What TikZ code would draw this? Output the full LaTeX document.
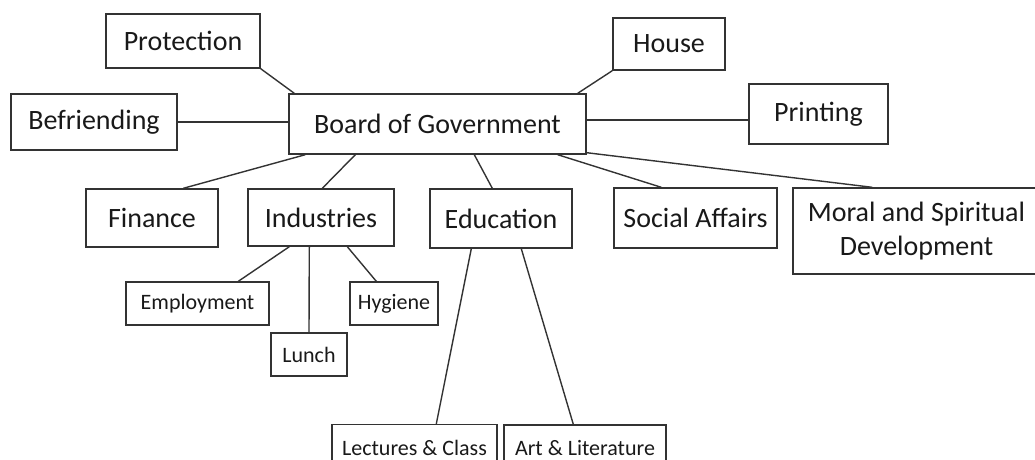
\documentclass[tikz,border=0pt]{standalone}
\usepackage{fontspec}
\setmainfont{Carlito}
\begin{document}
\begin{tikzpicture}[x=1pt,y=-1pt,
  box/.style={draw=black!80, line width=1.4pt, inner sep=0pt, text=black!90, align=center},
  big/.style={font=\fontsize{28}{34}\selectfont},
  small/.style={font=\fontsize{22}{26}\selectfont},
  conn/.style={draw=black!80, line width=1.4pt}]
\useasboundingbox (0,0) rectangle (1035,459);
\clip (0,0) rectangle (1035,459);
% nodes: centre = ((x1+x2)/2,(y1+y2)/2), size = (x2-x1, y2-y1)
\node[box,big,minimum width=154pt,minimum height=54pt] (prot) at (183,41) {Protection};
\node[box,big,minimum width=166pt,minimum height=56pt] (befr) at (94,122) {Befriending};
\node[box,big,minimum width=297pt,minimum height=60pt] (board) at (437.5,124) {Board of Government};
\node[box,big,minimum width=112pt,minimum height=52pt] (house) at (669,44) {House};
\node[box,big,minimum width=139pt,minimum height=60pt] (print) at (818.5,114) {Printing};
\node[box,big,minimum width=132pt,minimum height=58pt] (fin) at (152,218) {Finance};
\node[box,big,minimum width=146pt,minimum height=57pt] (ind) at (321,217.5) {Industries};
\node[box,big,minimum width=142pt,minimum height=59pt] (edu) at (501,218.5) {Education};
\node[box,big,minimum width=163pt,minimum height=60pt] (soc) at (695.5,218) {Social Affairs};
\node[box,big,minimum width=247pt,minimum height=86pt] (moral) at (916.5,231) {Moral and Spiritual\\Development};
\node[box,small,minimum width=143pt,minimum height=43pt] (emp) at (197.5,303.5) {Employment};
\node[box,small,minimum width=76pt,minimum height=43pt] (lunch) at (309,354.5) {Lunch};
\node[box,small,minimum width=88pt,minimum height=43pt] (hyg) at (394,303.5) {Hygiene};
\node[box,small,minimum width=165pt,minimum height=46pt] (lect) at (414.5,447.5) {Lectures \& Class};
\node[box,small,minimum width=162pt,minimum height=46pt] (art) at (585,448) {Art \& Literature};
% connectors
\draw[conn] (prot.south east) -- ([xshift=6pt]board.north west);
\draw[conn] (befr.east) -- (befr.east -| board.west);
\draw[conn] ([xshift=-9pt]board.north east) -- (house.south west);
\draw[conn] ([yshift=4pt]board.east) -- ([yshift=-6pt]print.west);
\draw[conn] ([xshift=17pt]board.south west) -- ([xshift=98pt]fin.north west);
\draw[conn] ([xshift=67pt]board.south west) -- ([xshift=75pt]ind.north west);
\draw[conn] ([xshift=186pt]board.south west) -- ([xshift=63pt]edu.north west);
\draw[conn] ([xshift=-29pt]board.south east) -- ([xshift=48pt]soc.north west);
\draw[conn] ([yshift=2pt]board.south east) -- ([xshift=80pt]moral.north west);
\draw[conn] ([xshift=42pt]ind.south west) -- ([xshift=113pt]emp.north west);
\draw[conn] ([xshift=62pt]ind.south west) -- (lunch.north);
\draw[conn] ([xshift=100pt]ind.south west) -- ([xshift=27pt]hyg.north west);
\draw[conn] ([xshift=42pt]edu.south west) -- ([xshift=105pt]lect.north west);
\draw[conn] ([xshift=92pt]edu.south west) -- ([xshift=70pt]art.north west);
\end{tikzpicture}
\end{document}
